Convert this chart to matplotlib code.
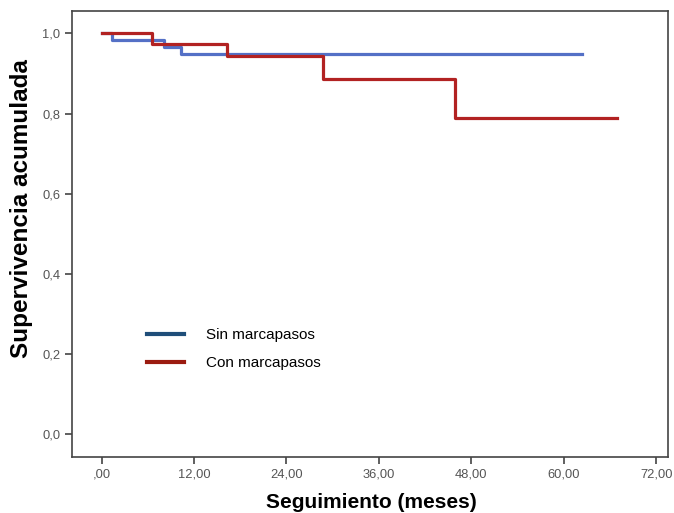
import matplotlib
matplotlib.use('Agg')
import matplotlib.pyplot as plt
from matplotlib.lines import Line2D

plt.rcParams['font.family'] = ['Liberation Sans', 'DejaVu Sans']

# Kaplan-Meier curves
sin_t = [0, 1.3, 8.15, 10.3, 62.4]
sin_s = [1.0, 0.984, 0.966, 0.949, 0.949]
con_t = [0, 6.6, 16.3, 28.8, 45.9, 66.9]
con_s = [1.0, 0.973, 0.943, 0.887, 0.788, 0.788]

x_ticks = [0, 12, 24, 36, 48, 60, 72]
x_labels = [',00', '12,00', '24,00', '36,00', '48,00', '60,00', '72,00']
y_ticks = [0.0, 0.2, 0.4, 0.6, 0.8, 1.0]
y_labels = ['0,0', '0,2', '0,4', '0,6', '0,8', '1,0']

fig = plt.figure(figsize=(6.74, 5.13), dpi=100)
ax = fig.add_axes([0.1073, 0.1097, 0.8845, 0.8689])

ax.step(sin_t, sin_s, where='post', color='#5470c6', lw=2.3, zorder=2)
ax.step(con_t, con_s, where='post', color='#b22222', lw=2.3, zorder=3)

ax.set_xlim(-3.8, 73.6)
ax.set_ylim(-0.057, 1.056)
ax.set_xticks(x_ticks)
ax.set_xticklabels(x_labels)
ax.set_yticks(y_ticks)
ax.set_yticklabels(y_labels)
ax.tick_params(direction='out', length=5, width=1.2, color='#444444',
               labelsize=9.3, labelcolor='#555555')
for s in ax.spines.values():
    s.set_color('#444444')
    s.set_linewidth(1.2)

ax.set_xlabel('Seguimiento (meses)', fontsize=15, fontweight='bold')
ax.set_ylabel('Supervivencia acumulada', fontsize=17.5, fontweight='bold')
ax.xaxis.set_label_coords(0.502, -0.081)
ax.yaxis.set_label_coords(-0.066, 0.556)

handles = [Line2D([], [], color='#1f4e79', lw=3),
           Line2D([], [], color='#9b1b10', lw=3)]
ax.legend(handles, ['Sin marcapasos', 'Con marcapasos'], loc='upper left',
          bbox_to_anchor=(0.1248, 0.2888), frameon=False, fontsize=11,
          handlelength=2.42, handletextpad=1.44, labelspacing=0.92,
          borderpad=0, borderaxespad=0)

fig.savefig('out.png', dpi=100)
